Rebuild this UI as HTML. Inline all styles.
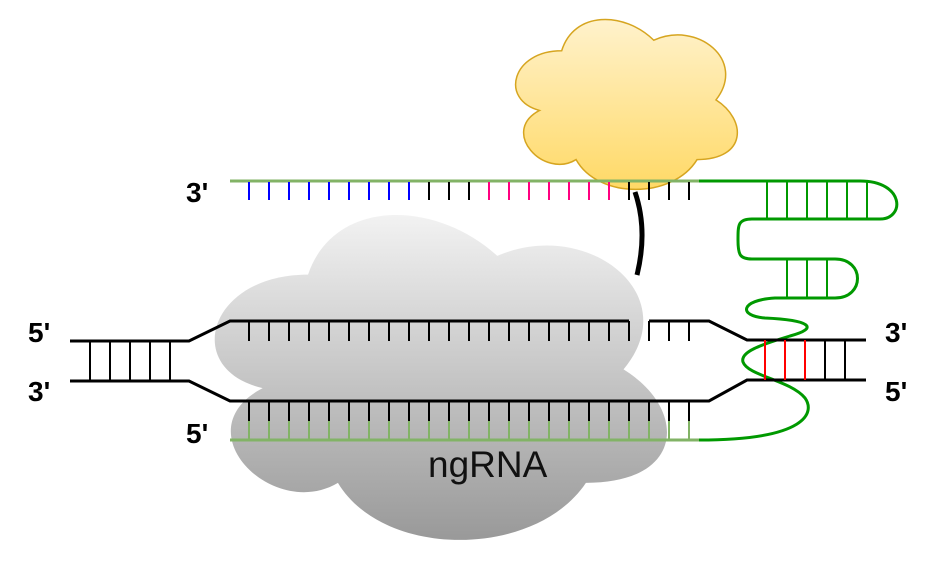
<!DOCTYPE html>
<html><head><style>body{margin:0;background:#fff}svg{display:block}text{font-family:"Liberation Sans",sans-serif}</style></head>
<body>
<svg width="938" height="562" viewBox="0 0 938 562" xmlns="http://www.w3.org/2000/svg">
<defs>
<linearGradient id="gy" x1="0" y1="0" x2="0" y2="1"><stop offset="0" stop-color="#fff2cc"/><stop offset="1" stop-color="#ffd966"/></linearGradient>
<linearGradient id="gg" x1="0" y1="0" x2="0" y2="1"><stop offset="0" stop-color="#f2f2f2"/><stop offset="1" stop-color="#999999"/></linearGradient>
</defs>
<path transform="translate(442,377) scale(1.107,1.17) translate(-449,-383.5)" fill="url(#gg)" d="M328,296 C237,296 214,377 287,393 C214,429 296,507 355,474 C396,539 533,539 579,474 C670,474 670,410 613,377 C670,312 579,247 499,280 C442,231 351,231 328,296 Z"/>
<path transform="translate(625.5,104) scale(1.11,1.17) translate(-627.5,-107.5)" vector-effect="non-scaling-stroke" fill="url(#gy)" stroke="#d6a520" stroke-width="1.5" d="M570,62 C525,62 514,104 550,113 C514,131 554,172 583,155 C603,189 670,189 692,155 C737,155 737,121 709,104 C737,70 692,36 653,53 C626,28 581,28 570,62 Z"/>
<line x1="230" y1="181" x2="699" y2="181" stroke="#82b366" stroke-width="3"/>
<g stroke-width="2">
<g stroke="#0000ff"><line x1="249" y1="182" x2="249" y2="200"/><line x1="269" y1="182" x2="269" y2="200"/><line x1="289" y1="182" x2="289" y2="200"/><line x1="309" y1="182" x2="309" y2="200"/><line x1="329" y1="182" x2="329" y2="200"/><line x1="349" y1="182" x2="349" y2="200"/><line x1="369" y1="182" x2="369" y2="200"/><line x1="389" y1="182" x2="389" y2="200"/><line x1="409" y1="182" x2="409" y2="200"/></g>
<g stroke="#000"><line x1="429" y1="182" x2="429" y2="200"/><line x1="449" y1="182" x2="449" y2="200"/><line x1="469" y1="182" x2="469" y2="200"/></g>
<g stroke="#ff0080"><line x1="489" y1="182" x2="489" y2="200"/><line x1="509" y1="182" x2="509" y2="200"/><line x1="529" y1="182" x2="529" y2="200"/><line x1="549" y1="182" x2="549" y2="200"/><line x1="569" y1="182" x2="569" y2="200"/><line x1="589" y1="182" x2="589" y2="200"/><line x1="609" y1="182" x2="609" y2="200"/></g>
<g stroke="#000"><line x1="629" y1="182" x2="629" y2="200"/><line x1="649" y1="182" x2="649" y2="200"/><line x1="669" y1="182" x2="669" y2="200"/><line x1="689" y1="182" x2="689" y2="200"/></g>
</g>
<path d="M635,192 Q648,230 637,275" fill="none" stroke="#000" stroke-width="5"/>
<g fill="none" stroke="#009900" stroke-width="3">
<path d="M699,181 L860,181 C905,181 905,219 880,219 L752,219 C738,219 738,225 738,240 C738,255 740,259 752,259 L835,259 C865,259 865,298 835,298 L775,298 C740,300 738,316 765,318 C810,320 820,328 790,336 C760,345 740,352 743,362 C748,376 790,380 805,398 C815,412 808,440 699,440"/>
</g>
<g stroke="#009900" stroke-width="2">
<line x1="767" y1="181" x2="767" y2="219"/><line x1="787" y1="181" x2="787" y2="219"/><line x1="807" y1="181" x2="807" y2="219"/><line x1="827" y1="181" x2="827" y2="219"/><line x1="847" y1="181" x2="847" y2="219"/><line x1="867" y1="181" x2="867" y2="219"/>
<line x1="787" y1="259" x2="787" y2="298"/><line x1="807" y1="259" x2="807" y2="298"/><line x1="827" y1="259" x2="827" y2="298"/>
</g>
<g fill="none" stroke="#000" stroke-width="3">
<path d="M70,341 L189,341 L230,321 L629,321"/>
<path d="M649,321 L709,321 L747,340 L866,340"/>
<path d="M70,381 L189,381 L230,401 L709,401 L747,380 L866,380"/>
</g>
<g stroke="#000" stroke-width="2">
<line x1="90" y1="341" x2="90" y2="381"/><line x1="110" y1="341" x2="110" y2="381"/><line x1="130" y1="341" x2="130" y2="381"/><line x1="150" y1="341" x2="150" y2="381"/><line x1="170" y1="341" x2="170" y2="381"/>
<line x1="825" y1="340" x2="825" y2="380"/><line x1="845" y1="340" x2="845" y2="380"/>
</g>
<g stroke="#ff0000" stroke-width="2"><line x1="765" y1="340" x2="765" y2="380"/><line x1="785" y1="340" x2="785" y2="380"/><line x1="805" y1="340" x2="805" y2="380"/></g>
<g id="tt" stroke="#000" stroke-width="2">
<line x1="249" y1="321" x2="249" y2="341"/><line x1="269" y1="321" x2="269" y2="341"/><line x1="289" y1="321" x2="289" y2="341"/><line x1="309" y1="321" x2="309" y2="341"/><line x1="329" y1="321" x2="329" y2="341"/><line x1="349" y1="321" x2="349" y2="341"/><line x1="369" y1="321" x2="369" y2="341"/><line x1="389" y1="321" x2="389" y2="341"/><line x1="409" y1="321" x2="409" y2="341"/><line x1="429" y1="321" x2="429" y2="341"/><line x1="449" y1="321" x2="449" y2="341"/><line x1="469" y1="321" x2="469" y2="341"/><line x1="489" y1="321" x2="489" y2="341"/><line x1="509" y1="321" x2="509" y2="341"/><line x1="529" y1="321" x2="529" y2="341"/><line x1="549" y1="321" x2="549" y2="341"/><line x1="569" y1="321" x2="569" y2="341"/><line x1="589" y1="321" x2="589" y2="341"/><line x1="609" y1="321" x2="609" y2="341"/><line x1="629" y1="321" x2="629" y2="341"/><line x1="649" y1="321" x2="649" y2="341"/><line x1="669" y1="321" x2="669" y2="341"/><line x1="689" y1="321" x2="689" y2="341"/>
</g>
<use href="#tt" transform="translate(0,80)"/>
<g stroke="#82b366" stroke-width="2">
<line x1="249" y1="421" x2="249" y2="440"/><line x1="269" y1="421" x2="269" y2="440"/><line x1="289" y1="421" x2="289" y2="440"/><line x1="309" y1="421" x2="309" y2="440"/><line x1="329" y1="421" x2="329" y2="440"/><line x1="349" y1="421" x2="349" y2="440"/><line x1="369" y1="421" x2="369" y2="440"/><line x1="389" y1="421" x2="389" y2="440"/><line x1="409" y1="421" x2="409" y2="440"/><line x1="429" y1="421" x2="429" y2="440"/><line x1="449" y1="421" x2="449" y2="440"/><line x1="469" y1="421" x2="469" y2="440"/><line x1="489" y1="421" x2="489" y2="440"/><line x1="509" y1="421" x2="509" y2="440"/><line x1="529" y1="421" x2="529" y2="440"/><line x1="549" y1="421" x2="549" y2="440"/><line x1="569" y1="421" x2="569" y2="440"/><line x1="589" y1="421" x2="589" y2="440"/><line x1="609" y1="421" x2="609" y2="440"/><line x1="629" y1="421" x2="629" y2="440"/><line x1="649" y1="421" x2="649" y2="440"/><line x1="669" y1="421" x2="669" y2="440"/><line x1="689" y1="421" x2="689" y2="440"/>
</g>
<line x1="230" y1="440" x2="699" y2="440" stroke="#82b366" stroke-width="3"/>
<g font-weight="bold" font-size="28" fill="#000">
<text x="186" y="202">3'</text>
<text x="28" y="342">5'</text>
<text x="28" y="401">3'</text>
<text x="186" y="443">5'</text>
<text x="885" y="342">3'</text>
<text x="885" y="401">5'</text>
</g>
<text x="428" y="477" font-size="37" fill="#111">ngRNA</text>
</svg>
</body></html>
